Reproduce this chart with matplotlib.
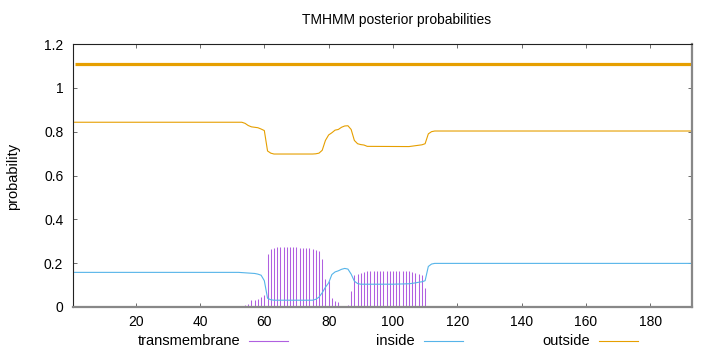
"""
TMHMM posterior probabilities plot (gnuplot-style look).
"""

import numpy as np
import matplotlib
matplotlib.use("Agg")
import matplotlib.pyplot as plt
from matplotlib.lines import Line2D
from matplotlib.ticker import FormatStrFormatter

plt.rcParams["font.family"] = ["Liberation Sans", "DejaVu Sans"]
plt.rcParams["font.size"] = 10

COLORS = {
    "transmembrane": "#b060e0",
    "inside":        "#56b4e9",
    "outside":       "#e69f00",
}

SEQ_START = 0.5
SEQ_END = 193

# transmembrane posterior, one impulse per residue starting at TM_START
TM_START = 51
tm_prob = [
    0.003, 0.004, 0.005, 0.008, 0.013, 0.030, 0.033, 0.038, 0.044, 0.057,   # 51-60
    0.243, 0.266, 0.271, 0.272, 0.272, 0.272, 0.272, 0.272, 0.272, 0.272,   # 61-70
    0.271, 0.270, 0.269, 0.268, 0.266, 0.262, 0.256, 0.220, 0.130, 0.118,   # 71-80
    0.040, 0.027, 0.025, 0.004, 0.002, 0.008, 0.072, 0.147, 0.150, 0.157,   # 81-90
    0.161, 0.163, 0.164, 0.165, 0.165, 0.165, 0.165, 0.165, 0.165, 0.165,   # 91-100
    0.165, 0.165, 0.165, 0.164, 0.163, 0.160, 0.156, 0.152, 0.148, 0.087,   # 101-110
    0.005,                                                                  # 111
]

# inside / outside curves (breakpoints of the line)
inside_pos = [1, 52, 53, 55, 57, 58, 59, 60, 61, 62, 63, 75, 76, 77, 78, 79,
              80, 81, 82, 83, 84, 85, 86, 87, 88, 89, 90, 100, 105, 106, 107,
              108, 109, 110, 111, 112, 113, 193]
inside_prob = [0.158, 0.158, 0.157, 0.155, 0.153, 0.150, 0.145, 0.120, 0.040,
               0.033, 0.031, 0.031, 0.035, 0.045, 0.065, 0.090, 0.110, 0.148,
               0.160, 0.165, 0.172, 0.176, 0.173, 0.150, 0.118, 0.107, 0.104,
               0.104, 0.106, 0.108, 0.110, 0.113, 0.115, 0.120, 0.185, 0.196,
               0.199, 0.199]

outside_pos = [1, 53, 54, 55, 56, 57, 58, 59, 60, 61, 62, 63, 75, 76, 77, 78,
               79, 80, 81, 82, 83, 84, 85, 86, 87, 88, 89, 90, 91, 92, 105,
               106, 107, 108, 109, 110, 111, 112, 113, 193]
outside_prob = [0.843, 0.843, 0.838, 0.828, 0.822, 0.820, 0.818, 0.812, 0.805,
                0.712, 0.702, 0.698, 0.698, 0.699, 0.702, 0.715, 0.760, 0.785,
                0.795, 0.807, 0.810, 0.820, 0.826, 0.827, 0.810, 0.760, 0.745,
                0.741, 0.739, 0.733, 0.732, 0.734, 0.736, 0.738, 0.740, 0.745,
                0.790, 0.800, 0.803, 0.803]

# predicted topology bar drawn above the curves
topo_level = 1.11
topo_start = [1]
topo_end = [193]
topo_state = ["outside"]

LEGEND = ["transmembrane", "inside", "outside"]


fig = plt.figure(figsize=(7.2, 3.52), dpi=100)
ax = fig.add_axes([73 / 720, 1 - 307 / 352, 619 / 720, 263 / 352])

tm_x = TM_START + np.arange(len(tm_prob))
ax.vlines(tm_x, 0, tm_prob, color=COLORS["transmembrane"], linewidth=0.75)
ax.plot(inside_pos, inside_prob, color=COLORS["inside"], linewidth=0.8)
ax.plot(outside_pos, outside_prob, color=COLORS["outside"], linewidth=0.8)
for s, e, st in zip(topo_start, topo_end, topo_state):
    ax.hlines(topo_level, s, e, color=COLORS[st], linewidth=2.3)

ax.set_xlim(SEQ_START, SEQ_END)
ax.set_ylim(0, 1.2)
ax.set_xticks(np.arange(20, 181, 20))
ax.set_yticks(np.arange(0, 1.21, 0.2))
ax.yaxis.set_major_formatter(FormatStrFormatter("%g"))
ax.tick_params(direction="in", length=3, width=0.6, color="#555555",
               top=True, right=True, labelsize=10, pad=6)
ax.tick_params(axis="y", pad=7)

for side in ["left", "top"]:
    ax.spines[side].set_color("#222222")
    ax.spines[side].set_linewidth(0.8)
for side in ["right", "bottom"]:
    ax.spines[side].set_color("#888888")
    ax.spines[side].set_linewidth(1.6)

fig.text(397 / 720, 1 - 20 / 352, "TMHMM posterior probabilities",
         ha="center", va="center", fontsize=10)
fig.text(13 / 720, 1 - 176 / 352, "probability", rotation=90,
         ha="center", va="center", fontsize=10.5)

# gnuplot-style key: label right-aligned, sample line after it
for i, name in enumerate(LEGEND):
    x_end = (288 + 175 * i) / 720
    y = 1 - 341 / 352
    fig.add_artist(Line2D([x_end - 39 / 720, x_end], [y, y],
                          color=COLORS[name], linewidth=0.8,
                          transform=fig.transFigure))
    fig.text(x_end - 48 / 720, y, name, ha="right", va="center", fontsize=10.5)

fig.savefig("out.png", dpi=100)
